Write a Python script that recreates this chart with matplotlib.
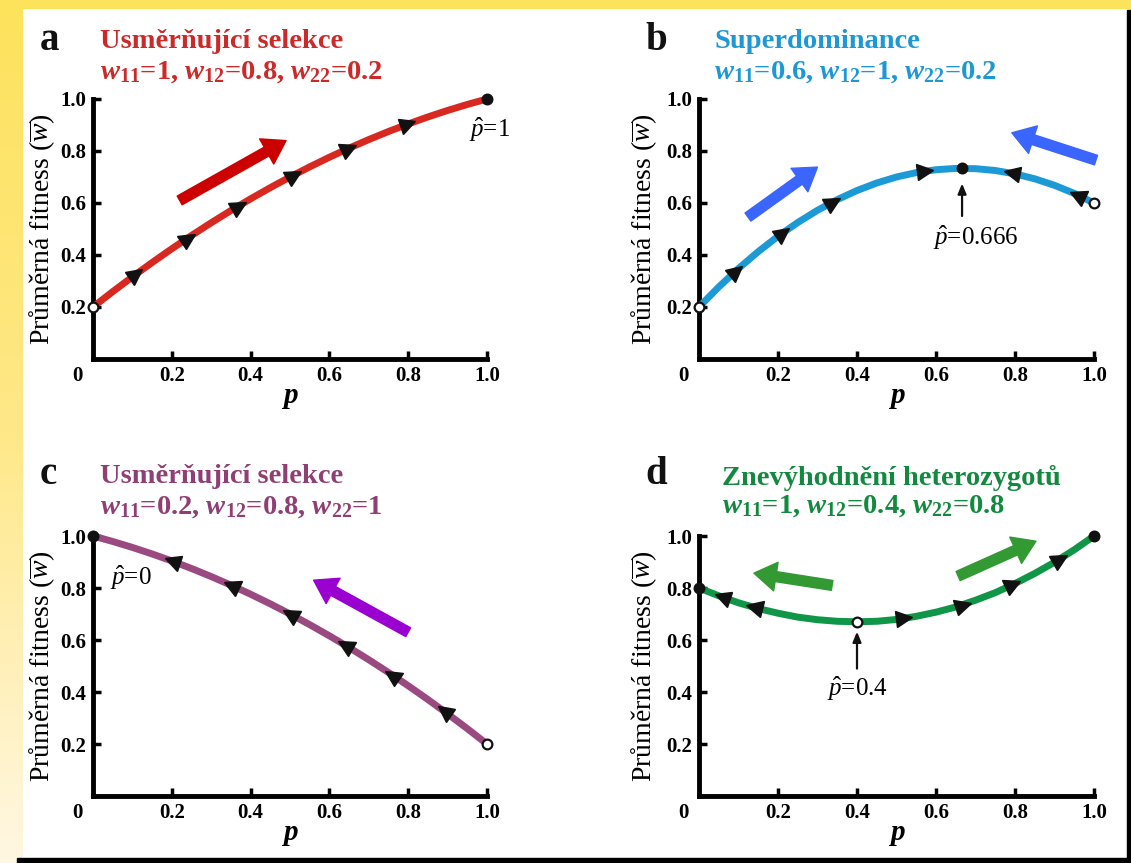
import numpy as np
import matplotlib.pyplot as plt
from matplotlib.markers import MarkerStyle
from matplotlib.patches import Rectangle
from matplotlib.colors import LinearSegmentedColormap

plt.rcParams['font.family'] = ['Liberation Serif', 'DejaVu Serif']
plt.rcParams['mathtext.fontset'] = 'custom'
plt.rcParams['mathtext.rm'] = 'Liberation Serif'
plt.rcParams['mathtext.it'] = 'Liberation Serif:italic'
plt.rcParams['mathtext.bf'] = 'Liberation Serif:bold'
plt.rcParams['mathtext.bfit'] = 'Liberation Serif:italic:bold'

# frekvence alely p
p = [0.00, 0.05, 0.10, 0.15, 0.20, 0.25, 0.30, 0.35, 0.40, 0.45, 0.50,
     0.55, 0.60, 0.65, 0.70, 0.75, 0.80, 0.85, 0.90, 0.95, 1.00]

letters = ['a', 'b', 'c', 'd']
titles = ['Usměrňující selekce', 'Superdominance', 'Usměrňující selekce',
          'Znevýhodnění heterozygotů']
w11 = [1, 0.6, 0.2, 1]
w12 = [0.8, 1, 0.8, 0.4]
w22 = [0.2, 0.2, 1, 0.8]

# prumerna fitness pro kazdy panel
fit_a = [0.200, 0.259, 0.316, 0.371, 0.424, 0.475, 0.524, 0.571, 0.616, 0.659, 0.700,
         0.739, 0.776, 0.811, 0.844, 0.875, 0.904, 0.931, 0.956, 0.979, 1.000]
fit_b = [0.200, 0.277, 0.348, 0.413, 0.472, 0.525, 0.572, 0.613, 0.648, 0.677, 0.700,
         0.717, 0.728, 0.733, 0.732, 0.725, 0.712, 0.693, 0.668, 0.637, 0.600]
fit_c = [1.000, 0.979, 0.956, 0.931, 0.904, 0.875, 0.844, 0.811, 0.776, 0.739, 0.700,
         0.659, 0.616, 0.571, 0.524, 0.475, 0.424, 0.371, 0.316, 0.259, 0.200]
fit_d = [0.800, 0.770, 0.743, 0.721, 0.703, 0.688, 0.678, 0.672, 0.670, 0.672, 0.679,
         0.691, 0.707, 0.727, 0.753, 0.782, 0.817, 0.856, 0.899, 0.947, 1.000]

# body na koncich a rovnovahy (plny = stabilni, prazdny = nestabilni)
pts_a_p, pts_a_w, pts_a_fill = [0.0, 1.0], [0.200, 1.000], [False, True]
pts_b_p, pts_b_w, pts_b_fill = [0.0, 0.666, 1.0], [0.200, 0.733, 0.600], [False, True, False]
pts_c_p, pts_c_w, pts_c_fill = [0.0, 1.0], [1.000, 0.200], [True, False]
pts_d_p, pts_d_w, pts_d_fill = [0.0, 0.4, 1.0], [0.800, 0.670, 1.000], [True, False, True]

# trojuhelniky smeru zmeny p na krivce (+1 doprava, -1 doleva)
tri_a_p = [0.11, 0.24, 0.37, 0.51, 0.65, 0.80]
tri_a_dir = [1, 1, 1, 1, 1, 1]
tri_b_p = [0.094, 0.213, 0.339, 0.572, 0.792, 0.957]
tri_b_dir = [1, 1, 1, 1, -1, -1]
tri_c_p = [0.20, 0.35, 0.50, 0.64, 0.76, 0.89]
tri_c_dir = [-1, -1, -1, -1, -1, -1]
tri_d_p = [0.058, 0.139, 0.52, 0.668, 0.795, 0.914]
tri_d_dir = [-1, -1, 1, 1, 1, 1]

line_colors = ['#d8281f', '#1c9ad6', '#9a4a80', '#0f9646']
title_colors = ['#cc2929', '#1e98d4', '#8f3f74', '#13893f']
arrow_colors = ['#cc0000', '#3a66ff', '#9a00d0', '#339a33']

# velke sipky (start, konec) v datovych souradnicich
big_arrows = [
    [((0.22, 0.61), (0.49, 0.84))],
    [((0.124, 0.546), (0.30, 0.738)), ((1.005, 0.765), (0.792, 0.87))],
    [((0.80, 0.63), (0.56, 0.83))],
    [((0.337, 0.81), (0.139, 0.857)), ((0.656, 0.846), (0.853, 0.98))],
]

# popisky rovnovahy: text, pozice textu, zarovnani, pripadna sipka
eq_labels = [
    (r'$\hat{p}$=1', (0.955, 0.88), 'left', None),
    (r'$\hat{p}$=0.666', (0.70, 0.465), 'center', ((0.666, 0.55), (0.666, 0.675))),
    (r'$\hat{p}$=0', (0.043, 0.84), 'left', None),
    (r'$\hat{p}$=0.4', (0.40, 0.41), 'center', ((0.40, 0.49), (0.40, 0.632))),
]

fits = [fit_a, fit_b, fit_c, fit_d]
pts = [(pts_a_p, pts_a_w, pts_a_fill), (pts_b_p, pts_b_w, pts_b_fill),
       (pts_c_p, pts_c_w, pts_c_fill), (pts_d_p, pts_d_w, pts_d_fill)]
tris = [(tri_a_p, tri_a_dir), (tri_b_p, tri_b_dir),
        (tri_c_p, tri_c_dir), (tri_d_p, tri_d_dir)]

W, H = 1131, 863
fig = plt.figure(figsize=(W / 100, H / 100), dpi=100)

# okraje obrazku
bg = fig.add_axes([0, 0, 22 / W, 1])
cmap = LinearSegmentedColormap.from_list('yel', ['#fde25c', '#ffe888', '#fff7e2'])
bg.imshow(np.linspace(0, 1, 200)[:, None], aspect='auto', cmap=cmap)
bg.axis('off')
fig.patches.append(Rectangle((0, 1 - 8 / H), 1, 8 / H, transform=fig.transFigure,
                             color='#fde35c', zorder=0))
fig.patches.append(Rectangle((1127 / W, 0), 4 / W, (H - 10) / H, transform=fig.transFigure,
                             color='black', zorder=0))
fig.patches.append(Rectangle((17 / W, 0), 1, 5 / H, transform=fig.transFigure,
                             color='black', zorder=0))

positions = [
    [93 / W, 1 - 359 / H, 394 / W, 260 / H],
    [699 / W, 1 - 359 / H, 395 / W, 260 / H],
    [93 / W, 1 - 796 / H, 394 / W, 260 / H],
    [699 / W, 1 - 796 / H, 395 / W, 260 / H],
]
title_x = [100, 714, 100, 722]
letter_x = [40, 645, 40, 645]
row_y = [(40, 42, 72), (40, 42, 72), (474, 476, 507), (474, 478, 506)]
ylabel_off = [-36, -40, -36, -40]


def fmt(v):
    return '%g' % v


def wsym(sub):
    return r'$\mathbfit{w}_{\mathbf{%s}}$' % sub


for i in range(4):
    ax = fig.add_axes(positions[i])
    ax.set_xlim(0, 1)
    ax.set_ylim(0, 1)
    for s in ['top', 'right']:
        ax.spines[s].set_visible(False)
    for s in ['left', 'bottom']:
        ax.spines[s].set_linewidth(3.5)
    ticks = [0.2, 0.4, 0.6, 0.8, 1.0]
    tlabels = ['0.2', '0.4', '0.6', '0.8', '1.0']
    ax.set_xticks(ticks)
    ax.set_xticklabels(tlabels, fontweight='bold')
    ax.set_yticks(ticks)
    ax.set_yticklabels(tlabels, fontweight='bold')
    ax.tick_params(direction='in', length=6, width=2.5, labelsize=15, pad=5)
    ax.annotate('0', xy=(0, 0), xycoords='axes fraction', xytext=(-16, -17),
                textcoords='offset pixels', ha='center', va='center',
                fontsize=15, fontweight='bold')
    ax.text(0.5, -0.15, r'$\mathbfit{p}$', transform=ax.transAxes,
            ha='center', va='center', fontsize=21)
    ax.set_ylabel('Průměrná fitness (' + r'$\overline{w}$' + ')', fontsize=20)
    ax.yaxis.set_label_coords(ylabel_off[i] / (positions[i][2] * W), 0.5)

    # krivka
    ax.plot(p, fits[i], color=line_colors[i], lw=5, solid_capstyle='butt',
            zorder=3, clip_on=False)

    # smerove trojuhelniky
    ax_w = positions[i][2] * W
    ax_h = positions[i][3] * H
    slope = np.gradient(np.array(fits[i]), np.array(p))
    tp, td = tris[i]
    for tx, d in zip(tp, td):
        ty = np.interp(tx, p, fits[i])
        s = np.interp(tx, p, slope)
        ang = np.degrees(np.arctan2(d * s * ax_h, d * ax_w))
        m = MarkerStyle('>')
        m._transform = m.get_transform().rotate_deg(ang)
        ax.plot(tx, ty, marker=m, markersize=11.5, color='#111111', zorder=4,
                clip_on=False)

    # rovnovazne body
    pp, pw, pf = pts[i]
    for x, y, f in zip(pp, pw, pf):
        ax.plot(x, y, 'o', markersize=7, markerfacecolor='#111111' if f else 'white',
                markeredgecolor='#111111', markeredgewidth=1.6, zorder=5, clip_on=False)

    # velke sipky
    for (x0, y0), (x1, y1) in big_arrows[i]:
        ax.annotate('', xy=(x1, y1), xytext=(x0, y0), annotation_clip=False,
                    arrowprops=dict(arrowstyle='simple,head_length=1.0,head_width=1.3,tail_width=0.45',
                                    color=arrow_colors[i], mutation_scale=16,
                                    shrinkA=0, shrinkB=0), zorder=2)

    # popisek rovnovahy
    txt, (lx, ly), ha, arr = eq_labels[i]
    ax.text(lx, ly, txt, ha=ha, va='center', fontsize=18, zorder=6)
    if arr is not None:
        ax.annotate('', xy=arr[1], xytext=arr[0],
                    arrowprops=dict(arrowstyle='-|>,head_length=0.6,head_width=0.25',
                                    color='#111111', lw=1.6, shrinkA=0, shrinkB=0))

    # pismeno panelu a nadpis
    ly0, ty1, ty2 = row_y[i]
    fig.text(letter_x[i] / W, 1 - ly0 / H, letters[i], fontsize=28, fontweight='bold',
             ha='left', va='center', color='#111111')
    fig.text(title_x[i] / W, 1 - ty1 / H, titles[i], fontsize=20.5, fontweight='bold',
             ha='left', va='center', color=title_colors[i])
    line2 = (wsym('11') + '=' + fmt(w11[i]) + ', ' + wsym('12') + '=' + fmt(w12[i])
             + ', ' + wsym('22') + '=' + fmt(w22[i]))
    fig.text(title_x[i] / W, 1 - ty2 / H, line2, fontsize=20.5, fontweight='bold',
             ha='left', va='center', color=title_colors[i])

fig.savefig('out.png', dpi=100)
